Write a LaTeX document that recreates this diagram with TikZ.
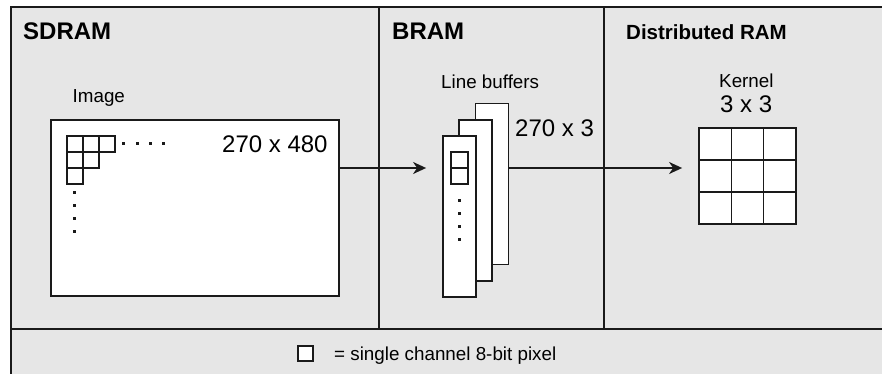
\documentclass[tikz,border=0pt]{standalone}
\usepackage{fontspec}
\setmainfont{Liberation Sans}
\usetikzlibrary{arrows.meta}
\definecolor{panel}{HTML}{E6E6E6}
\definecolor{ink}{HTML}{1A1A1A}
\begin{document}
\begin{tikzpicture}[x=1pt,y=-1pt,
  frame/.style={draw=ink,line width=2.2pt},
  divider/.style={draw=ink,line width=1.5pt},
  whitebox/.style={draw=ink,fill=white,line width=1.8pt,inner sep=0pt},
  cell/.style={draw=ink,line width=1.5pt},
  pdot/.style={fill=ink},
  title/.style={inner sep=0pt,anchor=base west,font=\fontsize{24}{28}\selectfont\bfseries},
  subtitle/.style={inner sep=0pt,anchor=base west,font=\fontsize{20.5}{24}\selectfont\bfseries},
  label/.style={inner sep=0pt,anchor=base west,font=\fontsize{18.8}{22}\selectfont},
  dims/.style={inner sep=0pt,anchor=base west,font=\fontsize{24}{28}\selectfont},
  arr/.style={draw=ink,line width=1.5pt,-{Stealth[length=13pt,width=12pt,inset=4pt]}}]
\useasboundingbox (0,0) rectangle (882,374);
\clip (0,0) rectangle (882,374);

% background panel and section dividers
\fill[panel] (11,7) rectangle (900,400);
\draw[frame] (11,400) -- (11,7) -- (900,7);
\draw[frame] (11,329) -- (900,329);
\draw[divider] (379,7) -- (379,329);
\draw[divider] (604,7) -- (604,329);

% section titles
\node[title] (tsdram) at (23,40) {SDRAM};
\node[title] (tbram) at (392,40) {BRAM};
\node[subtitle] (tdist) at (626,40) {Distributed RAM};

% image in SDRAM
\node[label] (limg) at (72.5,103) {Image};
\node[whitebox,minimum width=288pt,minimum height=176pt] (img) at (195,208) {};
\node[dims] (dimg) at (222,153) {270 x 480};
\foreach \c/\r in {0/0,1/0,2/0,0/1,1/1,0/2}
  \draw[cell] (67+16*\c,136+16*\r) rectangle ++(16,16);
\foreach \x in {123,137,150,163}
  \fill[pdot] (\x-1.5,142.5) rectangle ++(3,3);
\foreach \y in {192,205,218,231}
  \fill[pdot] (72.5,\y-1.5) rectangle ++(3,3);

% line buffers in BRAM
\node[label] (lbuf) at (441,89) {Line buffers};
\node[whitebox,minimum width=33pt,minimum height=161pt] (lbb) at (492,184) {};
\node[whitebox,minimum width=33pt,minimum height=161pt] (lbm) at (475.5,200.5) {};
\node[whitebox,minimum width=33pt,minimum height=161pt] (lbf) at (459.5,216.5) {};
\node[dims] (dlb) at (515,137) {270 x 3};
\draw[cell] (451,152) rectangle (468,184);
\draw[cell] (451,168) -- (468,168);
\foreach \y in {200,213,226,239}
  \fill[pdot] (457.5,\y-1.5) rectangle ++(3,3);

% kernel in distributed RAM
\node[label] (lker) at (719,87.5) {Kernel};
\node[dims] (dker) at (720,113) {3 x 3};
\node[whitebox,minimum width=97pt,minimum height=96pt] (kernel) at (747.5,176) {};
\draw[cell] (731.3,128) -- (731.3,224) (763.7,128) -- (763.7,224)
            (699,160) -- (796,160) (699,192) -- (796,192);

% data flow
\coordinate (lvl) at (0,168);
\draw[arr,shorten >=16pt] (img.east |- lvl) -- (lbf.west |- lvl);
\draw[arr,shorten >=16pt] (lbb.east |- lvl) -- (kernel.west |- lvl);

% legend
\node[whitebox,line width=1.5pt,minimum width=15pt,minimum height=15pt] (lgbox) at (305.5,353.5) {};
\node[label] (lgtext) at (334,360) {= single channel 8-bit pixel};
\end{tikzpicture}
\end{document}
